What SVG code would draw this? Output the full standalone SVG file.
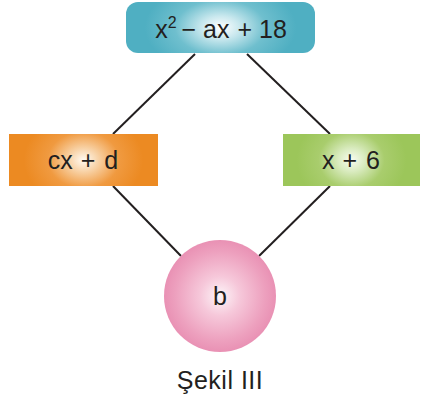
<svg xmlns="http://www.w3.org/2000/svg" width="422" height="400" viewBox="0 0 422 400">
<defs>
<radialGradient id="gTeal" cx="0.5" cy="0.5" r="0.5" gradientTransform="translate(0.5 0.5) scale(0.8 1.8) translate(-0.5 -0.5)">
<stop offset="0" stop-color="#ffffff"/><stop offset="0.25" stop-color="#c9e8ee"/><stop offset="0.6" stop-color="#6fbfce"/><stop offset="1" stop-color="#4fafc2"/>
</radialGradient>
<radialGradient id="gOrange" cx="0.5" cy="0.5" r="0.5" gradientTransform="translate(0.5 0.5) scale(0.8 1.8) translate(-0.5 -0.5)">
<stop offset="0" stop-color="#fffaf2"/><stop offset="0.25" stop-color="#f8d2a6"/><stop offset="0.6" stop-color="#f09a40"/><stop offset="1" stop-color="#ec8a22"/>
</radialGradient>
<radialGradient id="gGreen" cx="0.5" cy="0.5" r="0.5" gradientTransform="translate(0.5 0.5) scale(0.8 1.8) translate(-0.5 -0.5)">
<stop offset="0" stop-color="#f8fbf1"/><stop offset="0.25" stop-color="#d9ebbf"/><stop offset="0.6" stop-color="#a9cd6d"/><stop offset="1" stop-color="#9cc65a"/>
</radialGradient>
<radialGradient id="gPink" cx="0.5" cy="0.5" r="0.5">
<stop offset="0" stop-color="#fdf5f8"/><stop offset="0.35" stop-color="#f6c8da"/><stop offset="0.8" stop-color="#eda0be"/><stop offset="1" stop-color="#e991b4"/>
</radialGradient>
</defs>
<style>
text{font-family:"Liberation Sans",Arial,sans-serif;fill:#231f20;text-anchor:middle}
.lbl{font-size:25px}
.conn line{stroke:#231f20;stroke-width:2}
</style>
<g class="conn" id="connectors">
<line x1="195" y1="54" x2="113" y2="134"/>
<line x1="247" y1="54" x2="330" y2="134"/>
<line x1="113" y1="186" x2="181" y2="256"/>
<line x1="330" y1="186" x2="259" y2="256"/>
</g>
<g id="top">
<rect x="126" y="2" width="189" height="51" rx="12" fill="url(#gTeal)"/>
<text class="lbl" x="221" y="38">x<tspan font-size="16" dy="-10">2</tspan><tspan dy="10" dx="5">− ax </tspan><tspan dx="1">+ 18</tspan></text>
</g>
<g id="left">
<rect x="9" y="134" width="149" height="52" fill="url(#gOrange)"/>
<text class="lbl" x="83" y="169">cx <tspan dx="1">+</tspan><tspan dx="2"> d</tspan></text>
</g>
<g id="right">
<rect x="283" y="134" width="137" height="52" fill="url(#gGreen)"/>
<text class="lbl" x="351" y="169">x <tspan dx="1">+</tspan><tspan dx="2"> 6</tspan></text>
</g>
<g id="bottom">
<circle cx="220" cy="296" r="56" fill="url(#gPink)"/>
<text class="lbl" x="220" y="305">b</text>
</g>
<text x="220" y="389" font-size="25" letter-spacing="0.5">Şekil III</text>
</svg>
